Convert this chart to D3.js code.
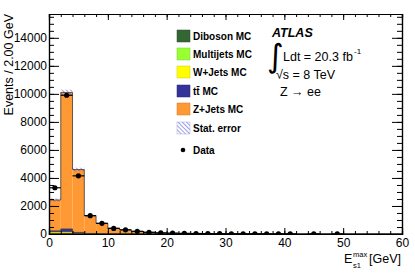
<!DOCTYPE html>
<html>
<head>
<meta charset="utf-8">
<script src="https://cdn.jsdelivr.net/npm/d3@7"></script>
<style>
body { margin: 0; background: #fff; }
text { font-family: "Liberation Sans", Arial, Helvetica, sans-serif; }
</style>
</head>
<body>
<svg id="chart" width="415" height="273"></svg>
<script>
// bin low edges, 2 GeV wide
const binStart = [0, 2, 4, 6, 8, 10, 12, 14, 16, 18, 20, 22, 24, 26, 28,
                  30, 32, 34, 36, 38, 40, 42, 44, 46, 48, 50, 52, 54, 56, 58];

// MC samples (stacked bottom -> top)
const diboson  = [20, 30, 20, 8, 5, 3, 2, 2, 1, 1, 1, 1, 0, 0, 0, 0, 0, 0, 0, 0, 0, 0, 0, 0, 0, 0, 0, 0, 0, 0];
const multijet = [8, 10, 5, 2, 1, 1, 0, 0, 0, 0, 0, 0, 0, 0, 0, 0, 0, 0, 0, 0, 0, 0, 0, 0, 0, 0, 0, 0, 0, 0];
const wjets    = [130, 120, 25, 8, 4, 2, 1, 1, 0, 0, 0, 0, 0, 0, 0, 0, 0, 0, 0, 0, 0, 0, 0, 0, 0, 0, 0, 0, 0, 0];
const ttbar    = [70, 200, 60, 20, 10, 6, 4, 2, 1, 1, 1, 0, 0, 0, 0, 0, 0, 0, 0, 0, 0, 0, 0, 0, 0, 0, 0, 0, 0, 0];
const zjets    = [2200, 9740, 4490, 1270, 740, 405, 280, 185, 118, 78, 53, 39, 30, 22, 16, 12, 9, 7, 5, 4, 3, 2, 2, 1, 1, 1, 0, 0, 0, 0];
const statErr  = [110, 200, 130, 60, 40, 30, 20, 15, 10, 8, 6, 5, 4, 3, 3, 2, 2, 2, 1, 1, 1, 1, 1, 1, 1, 1, 0, 0, 0, 0];

// data (0 = no point drawn)
const dataVals = [3300, 9900, 4150, 1310, 760, 400, 300, 190, 120, 80, 60, 45, 35, 25, 20,
                  15, 12, 10, 8, 6, 4, 0, 3, 0, 2, 0, 0, 0, 0, 0];

const xTicks = [0, 10, 20, 30, 40, 50, 60];
const yTicks = [0, 2000, 4000, 6000, 8000, 10000, 12000, 14000];

const samples = [
  {key: "diboson",  label: "Diboson MC",   color: "#336633", vals: diboson},
  {key: "multijet", label: "Multijets MC", color: "#99ff33", vals: multijet},
  {key: "wjets",    label: "W+Jets MC",    color: "#ffff00", vals: wjets},
  {key: "ttbar",    label: "tt\u0304 MC",  color: "#333399", vals: ttbar},
  {key: "zjets",    label: "Z+Jets MC",    color: "#ff9933", vals: zjets}
];

const svg = d3.select("#chart");
const margin = {top: 14, right: 13, bottom: 39, left: 49};
const width = 415 - margin.left - margin.right,
      height = 273 - margin.top - margin.bottom;

const x = d3.scaleLinear().domain([0, 60]).range([0, width]);
const y = d3.scaleLinear().domain([0, 15700]).range([height, 0]);

const defs = svg.append("defs");
const pat = defs.append("pattern")
  .attr("id", "hatch")
  .attr("patternUnits", "userSpaceOnUse")
  .attr("width", 3).attr("height", 3)
  .attr("patternTransform", "rotate(-45)");
pat.append("line")
  .attr("x1", 0).attr("y1", 0).attr("x2", 0).attr("y2", 3)
  .attr("stroke", "#3b3bd0").attr("stroke-width", 1);
defs.append("clipPath").attr("id", "clip")
  .append("rect").attr("width", width).attr("height", height);

const g = svg.append("g")
  .attr("transform", "translate(" + margin.left + "," + margin.top + ")");

// stacked table
const rows = binStart.map((b, i) => {
  const r = {start: b};
  samples.forEach(s => r[s.key] = s.vals[i]);
  return r;
});
const stacked = d3.stack().keys(samples.map(s => s.key))(rows);

const plot = g.append("g").attr("clip-path", "url(#clip)");

stacked.forEach((layer, li) => {
  plot.append("g").selectAll("rect")
    .data(layer)
    .enter().append("rect")
    .attr("x", d => x(d.data.start))
    .attr("width", d => x(d.data.start + 2) - x(d.data.start))
    .attr("y", d => y(d[1]))
    .attr("height", d => Math.max(0, y(d[0]) - y(d[1])))
    .attr("fill", samples[li].color);
});

// outline of each layer (step)
const step = d3.line().curve(d3.curveStepAfter).x(d => x(d[0])).y(d => y(d[1]));
stacked.forEach(layer => {
  const pts = layer.map(d => [d.data.start, d[1]]);
  pts.push([60, layer[layer.length - 1][1]]);
  plot.append("path")
    .attr("d", step(pts))
    .attr("fill", "none")
    .attr("stroke", "#3a3a3a")
    .attr("stroke-width", 0.8);
});

// stat error band
const topLayer = stacked[stacked.length - 1];
plot.append("g").selectAll("rect")
  .data(topLayer.map((d, i) => ({lo: d.data.start, v: d[1], e: statErr[i]})).filter(d => d.e > 0))
  .enter().append("rect")
  .attr("x", d => x(d.lo))
  .attr("width", d => x(d.lo + 2) - x(d.lo))
  .attr("y", d => y(d.v + d.e))
  .attr("height", d => y(d.v - d.e) - y(d.v + d.e))
  .attr("fill", "url(#hatch)");

// data points
const pts = binStart.map((b, i) => ({c: b + 1, v: dataVals[i], lo: b})).filter(d => d.v > 0);
const dg = plot.append("g");
dg.selectAll(".hbar").data(pts).enter().append("line")
  .attr("x1", d => x(d.lo)).attr("x2", d => x(d.lo + 2))
  .attr("y1", d => y(d.v)).attr("y2", d => y(d.v))
  .attr("stroke", "#000").attr("stroke-width", 1.2);
dg.selectAll(".vbar").data(pts).enter().append("line")
  .attr("x1", d => x(d.c)).attr("x2", d => x(d.c))
  .attr("y1", d => y(d.v + Math.sqrt(d.v))).attr("y2", d => y(Math.max(0, d.v - Math.sqrt(d.v))))
  .attr("stroke", "#000").attr("stroke-width", 1.2);
dg.selectAll("circle").data(pts).enter().append("circle")
  .attr("cx", d => x(d.c)).attr("cy", d => y(d.v)).attr("r", 2.6)
  .attr("fill", "#000");

// axes
const minorX = d3.range(0, 61, 2);
const minorY = d3.range(0, 15701, 500);

function styleAxis(sel) {
  sel.select(".domain").attr("stroke", "#000");
  sel.selectAll(".tick line").attr("stroke", "#000");
  sel.selectAll("text").attr("font-size", "12px").attr("fill", "#000");
}

g.append("g").attr("transform", "translate(0," + height + ")")
  .call(d3.axisBottom(x).tickValues(minorX).tickSize(-3).tickFormat(""))
  .call(styleAxis);
g.append("g").attr("transform", "translate(0," + height + ")")
  .call(d3.axisBottom(x).tickValues(xTicks).tickSize(-6).tickPadding(3).tickFormat(d3.format("d")))
  .call(styleAxis)
  .selectAll("text").attr("dy", "0.85em");

g.append("g")
  .call(d3.axisTop(x).tickValues(minorX).tickSize(-3).tickFormat(""))
  .call(styleAxis);
g.append("g")
  .call(d3.axisTop(x).tickValues(xTicks).tickSize(-6).tickFormat(""))
  .call(styleAxis);

g.append("g")
  .call(d3.axisLeft(y).tickValues(minorY).tickSize(-5).tickFormat(""))
  .call(styleAxis);
g.append("g")
  .call(d3.axisLeft(y).tickValues(yTicks).tickSize(-10).tickPadding(2).tickFormat(d3.format("d")))
  .call(styleAxis);

g.append("g").attr("transform", "translate(" + width + ",0)")
  .call(d3.axisRight(y).tickValues(minorY).tickSize(-5).tickFormat(""))
  .call(styleAxis);
g.append("g").attr("transform", "translate(" + width + ",0)")
  .call(d3.axisRight(y).tickValues(yTicks).tickSize(-10).tickFormat(""))
  .call(styleAxis);

g.selectAll(".domain").attr("stroke-width", 1.2);

// axis titles
svg.append("text")
  .attr("transform", "translate(13," + margin.top + ") rotate(-90)")
  .attr("text-anchor", "end")
  .attr("font-size", "12.5px")
  .text("Events / 2.00 GeV");

const xt = svg.append("g");
xt.append("text").attr("x", 344).attr("y", 263).attr("font-size", "12.5px").text("E");
xt.append("text").attr("x", 353).attr("y", 257).attr("font-size", "7.5px").text("max");
xt.append("text").attr("x", 353).attr("y", 268).attr("font-size", "7.5px").text("s1");
xt.append("text").attr("x", 401).attr("y", 263).attr("text-anchor", "end")
  .attr("font-size", "12.5px").text("[GeV]");

// legend
const leg = svg.append("g");
const rowY = [36, 54, 72, 91, 109, 128];
samples.forEach((s, i) => {
  leg.append("rect").attr("x", 177).attr("y", rowY[i] - 6).attr("width", 13).attr("height", 12)
    .attr("fill", s.color).attr("stroke", d3.color(s.color).darker(0.6)).attr("stroke-width", 0.5);
  leg.append("text").attr("x", 193).attr("y", rowY[i] + 3.5)
    .attr("font-size", "10px").attr("font-weight", "bold").text(s.label);
});
leg.append("rect").attr("x", 177).attr("y", rowY[5] - 6).attr("width", 13).attr("height", 12)
  .attr("fill", "url(#hatch)").attr("stroke", "#aaaacc").attr("stroke-width", 0.5);
leg.append("text").attr("x", 193).attr("y", rowY[5] + 3.5)
  .attr("font-size", "10px").attr("font-weight", "bold").text("Stat. error");
leg.append("circle").attr("cx", 183).attr("cy", 150).attr("r", 2.3).attr("fill", "#000");
leg.append("text").attr("x", 193).attr("y", 153.5)
  .attr("font-size", "10px").attr("font-weight", "bold").text("Data");

// ATLAS label
const lab = svg.append("g");
lab.append("text").attr("x", 272).attr("y", 37).attr("font-size", "12.5px")
  .attr("font-weight", "bold").attr("font-style", "italic").text("ATLAS");
lab.append("text").attr("x", 267).attr("y", 67).attr("font-size", "32px")
  .style("font-family", "'DejaVu Sans', sans-serif").text("\u222B");
lab.append("text").attr("x", 283).attr("y", 61).attr("font-size", "12.5px").text("Ldt = 20.3 fb");
lab.append("text").attr("x", 354).attr("y", 54).attr("font-size", "8px").text("-1");
lab.append("text").attr("x", 276).attr("y", 79).attr("font-size", "12.5px").text("\u221As = 8 TeV");
lab.append("text").attr("x", 280).attr("y", 96).attr("font-size", "12.5px").text("Z \u2192 ee");
</script>
</body>
</html>
